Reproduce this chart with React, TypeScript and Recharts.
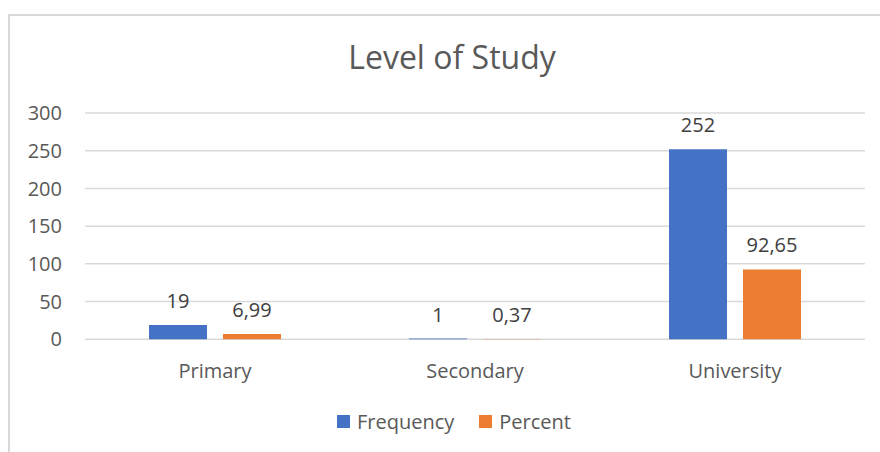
import React from 'react';
import { BarChart, Bar, XAxis, YAxis, CartesianGrid, Legend, LabelList } from 'recharts';

const categories = ['Primary', 'Secondary', 'University'];
const frequency = [19, 1, 252];
const percent = [6.99, 0.37, 92.65];
const yTicks = [0, 50, 100, 150, 200, 250, 300];

const data = categories.map((c, i) => ({ name: c, Frequency: frequency[i], Percent: percent[i] }));

const FONT = '"Open Sans", sans-serif';
const BLUE = '#4472C4';
const ORANGE = '#ED7D31';

const fmt = (v: any) => String(v).replace('.', ',');

const LegendContent = (props: any) => {
  const items = props.payload || [];
  return (
    <div style={{ height: 0, overflow: 'visible' }}>
      <div style={{ display: 'flex', alignItems: 'center', paddingLeft: 327, fontFamily: FONT, fontSize: 20, color: '#595959', lineHeight: '27px', whiteSpace: 'nowrap' }}>
        {items.map((it: any, i: number) => (
          <div key={i} style={{ display: 'flex', alignItems: 'center', marginRight: 25 }}>
            <div style={{ width: 13, height: 13, background: it.color, marginRight: 7 }} />
            <span>{it.value}</span>
          </div>
        ))}
      </div>
    </div>
  );
};

export default function App() {
  return (
    <div style={{ position: 'fixed', left: 8, top: 14, width: 872, height: 438, boxSizing: 'border-box', borderTop: '2px solid #d9d9d9', borderLeft: '2px solid #d9d9d9', overflow: 'hidden', background: '#fff' }}>
      <div style={{ position: 'absolute', left: 0, top: 18.6, width: 870, paddingLeft: 14, boxSizing: 'border-box', textAlign: 'center', fontFamily: FONT, fontSize: 32, lineHeight: '44px', color: '#595959' }}>
        Level of Study
      </div>
      <BarChart width={870} height={436} data={data} margin={{ top: 97, right: 15, bottom: 52.7, left: 0 }} barCategoryGap={64} barGap={16}>
        <CartesianGrid vertical={false} stroke="#d9d9d9" strokeWidth={1.5} />
        <XAxis dataKey="name" height={60} axisLine={false} tickLine={false} tickMargin={18} tick={{ fill: '#595959', fontSize: 20, fontFamily: FONT }} />
        <YAxis width={75} domain={[0, 300]} ticks={yTicks} axisLine={false} tickLine={false} tickMargin={17} tick={{ fill: '#595959', fontSize: 20, fontFamily: FONT }} />
        <Legend content={<LegendContent />} wrapperStyle={{ top: 392, bottom: 'auto', left: 0, width: 870, height: 0 }} />
        <Bar dataKey="Frequency" fill={BLUE} isAnimationActive={false}>
          <LabelList dataKey="Frequency" position="top" offset={17} formatter={fmt} style={{ fill: '#404040', fontSize: 20, fontFamily: FONT }} />
        </Bar>
        <Bar dataKey="Percent" fill={ORANGE} isAnimationActive={false}>
          <LabelList dataKey="Percent" position="top" offset={17} formatter={fmt} style={{ fill: '#404040', fontSize: 20, fontFamily: FONT }} />
        </Bar>
      </BarChart>
    </div>
  );
}
